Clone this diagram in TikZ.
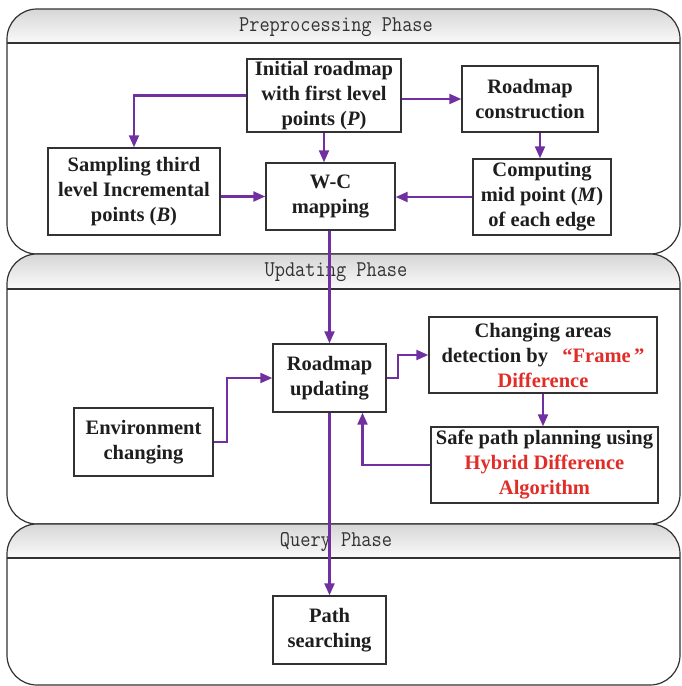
\documentclass[tikz,border=0pt]{standalone}
\usepackage{fontspec}
\setmainfont{Liberation Serif}
\newfontfamily\hdrfont{Latin Modern Mono}[FakeStretch=0.88]
\usetikzlibrary{arrows.meta}
\definecolor{arrowpurple}{RGB}{112,48,160}
\definecolor{txtred}{RGB}{225,45,40}
\definecolor{txtdark}{RGB}{30,30,30}
\definecolor{edgegray}{RGB}{50,50,50}
\newcommand\phasepanel[3]{%
  \fill[white, rounded corners=30pt] (7,#1) rectangle (680,#3);
  \begin{scope}
    \clip[rounded corners=30pt] (7,#1) rectangle (680,#3);
    \shade[top color=gray!32, bottom color=gray!4] (7,#1) rectangle (680,#2);
  \end{scope}
  \draw[edgegray, line width=1.2pt, rounded corners=30pt] (7,#1) rectangle (680,#3);
  \draw[edgegray, line width=1.2pt] (7,#2) -- (680,#2);
}
\begin{document}
\begin{tikzpicture}[x=1pt,y=-1pt,
  box/.style={draw=edgegray, line width=1.4pt, fill=white, inner sep=0pt, align=center,
    font=\fontsize{20.5}{25}\selectfont\bfseries, text=txtdark},
  arr/.style={draw=arrowpurple, line width=2.2pt, -{Triangle[length=12pt,width=10pt]}},
  hdr/.style={font=\hdrfont\fontsize{22.5}{26}\selectfont, text=black!80, inner sep=0pt}]
\useasboundingbox (0,0) rectangle (681,686);

% phase panels
\phasepanel{9}{43}{254}
\node[hdr] (h1) at (336,27) {Preprocessing Phase};
\phasepanel{254}{289}{524}
\node[hdr] (h2) at (336,272) {Updating Phase};
\phasepanel{524}{558}{685}
\node[hdr] (h3) at (336,542) {Query Phase};

% boxes
\node[box, minimum width=154pt, minimum height=73pt] (init) at (324,95.5)
  {Initial roadmap\\with first level\\points (\textit{P})};
\node[box, minimum width=136pt, minimum height=66pt] (rc) at (530,99)
  {Roadmap\\construction};
\node[box, minimum width=172pt, minimum height=87pt] (samp) at (134,191.5)
  {Sampling third\\level Incremental\\points (\textit{B})};
\node[box, minimum width=129pt, minimum height=67pt] (wc) at (330.5,196.5)
  {W-C\\mapping};
\node[box, minimum width=138pt, minimum height=76pt] (comp) at (542,197)
  {Computing\\mid point (\textit{M})\\of each edge};
\node[box, minimum width=113pt, minimum height=68pt] (ru) at (329.5,378)
  {Roadmap\\updating};
\node[box, minimum width=228pt, minimum height=76pt] (chg) at (543,355)
  {Changing areas\\detection by\hspace{0.7em}\textcolor{txtred}{“Frame\,”}\\\textcolor{txtred}{Difference}};
\node[box, minimum width=139pt, minimum height=68pt] (env) at (143.5,442)
  {Environment\\changing};
\node[box, minimum width=227pt, minimum height=76pt] (safe) at (544.5,465)
  {Safe path planning using\\\textcolor{txtred}{Hybrid Difference}\\\textcolor{txtred}{Algorithm}};
\node[box, minimum width=113pt, minimum height=68pt] (path) at (329.5,630)
  {Path\\searching};

% connectors
\draw[arr] (init.west) -| (samp.north);
\draw[arr] (init.south) -- (init.south |- wc.north);
\draw[arr] (rc.west -| init.east) -- (rc.west);
\draw[arr] ([xshift=10pt]rc.south) -- ([xshift=10pt]rc.south |- comp.north);
\draw[arr] (comp.west) -- (comp.west -| wc.east);
\draw[arr] (wc.west -| samp.east) -- (wc.west);
\draw[arr] (ru.north |- wc.south) -- (ru.north);
\draw[arr] (env.east) -- ++(13,0) |- (ru.west);
\draw[arr] (ru.east) -- ++(11,0) |- (chg.west);
\draw[arr] (chg.south) -- (chg.south |- safe.north);
\draw[arr] (safe.west) -| ([xshift=33pt]ru.south);
\draw[arr] (ru.south) -- (path.north);
\end{tikzpicture}
\end{document}
